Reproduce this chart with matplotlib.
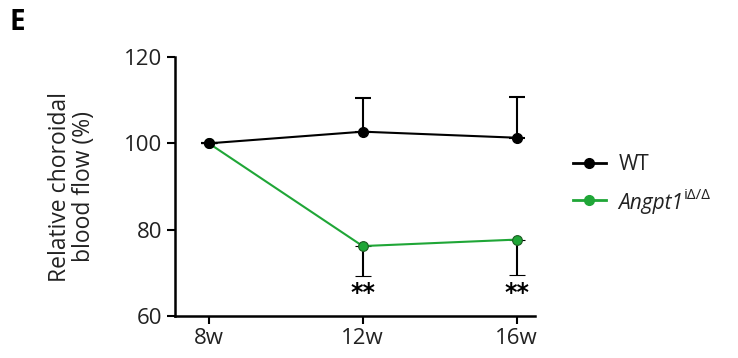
import numpy as np
import matplotlib.pyplot as plt
from matplotlib.lines import Line2D

plt.rcParams['font.family'] = ['Open Sans', 'DejaVu Sans']

##Data
weeks = ['8w', '12w', '16w']
wt_mean = [100, 102.7, 101.3]
wt_err_up = [0, 7.9, 9.5]
ko_mean = [100, 76.2, 77.7]
ko_err_down = [0, 6.9, 8.2]
stars = ['', '**', '**']

x = np.arange(len(weeks))
green = '#1fa637'
txt = '#222222'

fig = plt.figure(figsize=(7.38, 3.58), dpi=100)
ax = fig.add_axes([175/738, 1-316/358, 360/738, 259/358])

#Mutant first so that WT marker sits on top at 8w
ax.errorbar(x, ko_mean, yerr=[ko_err_down, np.zeros(3)], color=green, lw=1.5,
            marker='o', ms=7, mfc=green, mec='#1c5c22', mew=0.8,
            ecolor='black', elinewidth=1.5, capsize=5.5, capthick=1.5, zorder=2)
ax.errorbar(x, wt_mean, yerr=[np.zeros(3), wt_err_up], color='black', lw=1.5,
            marker='o', ms=7, ecolor='black', elinewidth=1.5, capsize=5.5,
            capthick=1.5, zorder=3)

#Significance stars below mutant error bars
for xi, m, e, s in zip(x, ko_mean, ko_err_down, stars):
    if s:
        ax.text(xi, m - e - 1.3, s, ha='center', va='top', fontsize=17,
                fontweight='bold', family='DejaVu Sans')

ax.set_xlim(-0.22, 2.12)
ax.set_ylim(60, 120)
ax.set_yticks([60, 80, 100, 120])
ax.set_xticks(x, weeks)
ax.tick_params(direction='out', length=6, width=1.5, labelsize=16, pad=3,
               labelcolor=txt)
for side in ['top', 'right']:
    ax.spines[side].set_visible(False)
for side in ['left', 'bottom']:
    ax.spines[side].set_linewidth(1.8)
ax.set_ylabel('Relative choroidal\nblood flow (%)', fontsize=16.5, linespacing=1.05,
              color=txt, labelpad=20)

#Legend: handles drawn by legend, mutant label written as text for italic + superscript
handles = [Line2D([], [], color='black', lw=2, marker='o', ms=7),
           Line2D([], [], color=green, lw=2, marker='o', ms=7, mec=green)]
fig.legend(handles, ['WT', ' '], loc='center left', bbox_to_anchor=(554/738, 1-183/358),
           frameon=False, fontsize=15, handlelength=1.6, handletextpad=0.6,
           labelspacing=0.75, labelcolor=txt)
gene = fig.text(618/738, 1-203/358, 'Angpt1', fontsize=15, style='italic',
                va='center', color=txt)
ax.annotate('i\u0394/\u0394', xy=(1, 0.5), xycoords=gene, xytext=(0.5, 0),
            textcoords='offset points', fontsize=11, va='bottom', ha='left',
            color=txt, annotation_clip=False)

fig.text(10/738, 1-23/358, 'E', fontsize=20, fontweight='bold', va='center')

fig.savefig('out.png', dpi=100)
